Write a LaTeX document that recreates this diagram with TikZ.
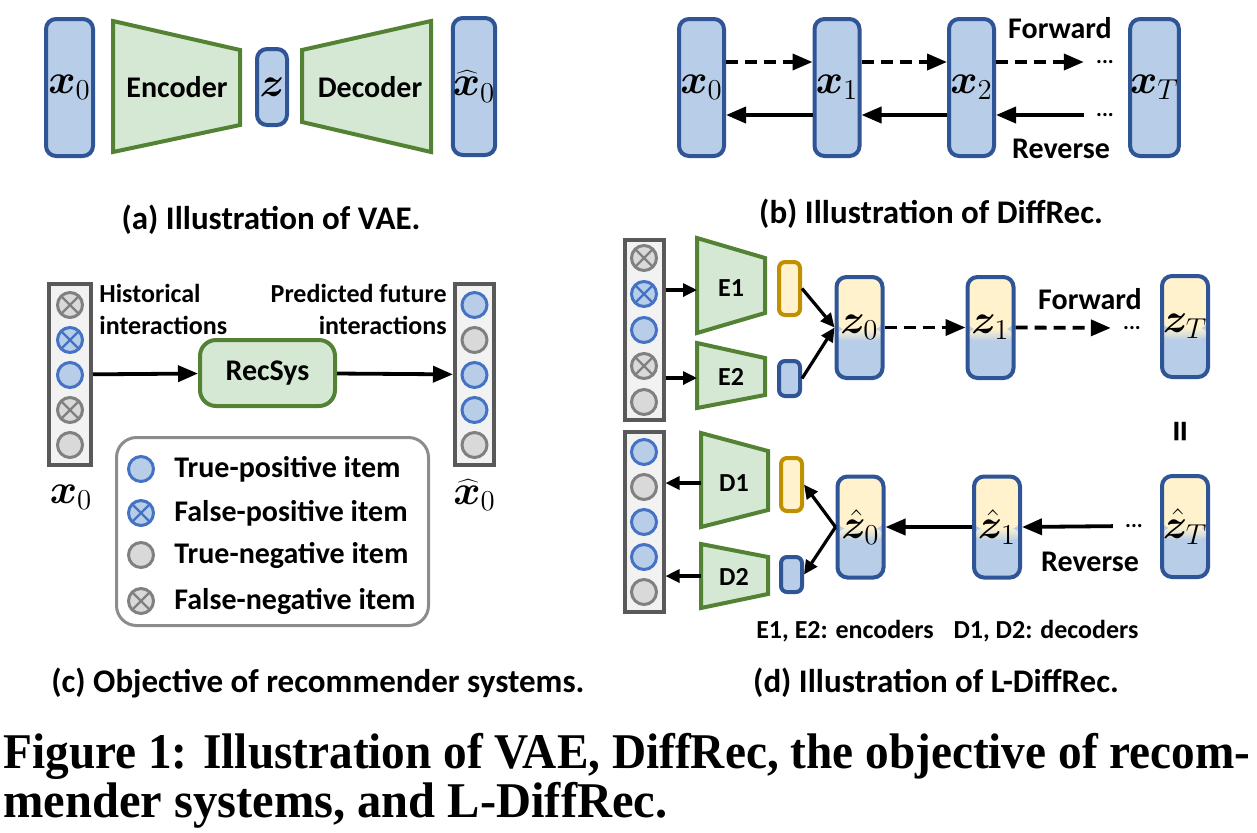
\documentclass[tikz,border=0pt]{standalone}
\usepackage{bm}
\usepackage[no-math]{fontspec}
\newfontfamily\cf{Carlito}
\newfontfamily\capfont{Liberation Serif}
\usetikzlibrary{arrows.meta}
\definecolor{bfill}{RGB}{183,205,232}
\definecolor{bline}{RGB}{47,85,151}
\definecolor{cline}{RGB}{68,114,196}
\definecolor{gfill}{RGB}{217,217,217}
\definecolor{gline}{RGB}{128,128,128}
\definecolor{colfill}{RGB}{242,242,242}
\definecolor{colline}{RGB}{89,89,89}
\definecolor{nfill}{RGB}{213,232,212}
\definecolor{nline}{RGB}{84,130,53}
\definecolor{yfill}{RGB}{255,242,204}
\definecolor{yline}{RGB}{191,144,0}
\definecolor{lgline}{RGB}{140,140,140}

\begin{document}
\begin{tikzpicture}[x=0.5pt, y=-0.5pt, font=\cf\bfseries,
  vec/.style={draw=bline, fill=bfill, line width=2pt, rounded corners=5pt, inner sep=0pt,
    font=\fontsize{20}{22}\selectfont},
  lat/.style={vec, minimum width=23pt, minimum height=50.5pt,
    path picture={
      \fill[yfill] (path picture bounding box.north west) rectangle ([yshift=-1pt]path picture bounding box.east);
      \shade[top color=yfill, bottom color=bfill] ([yshift=-0.5pt]path picture bounding box.west)
        rectangle ([yshift=-7pt]path picture bounding box.east);
      \fill[bfill] ([yshift=-6.5pt]path picture bounding box.west) rectangle (path picture bounding box.south east);}},
  sbox/.style={vec, rounded corners=3pt, minimum width=10.5pt},
  nn/.style={draw=nline, fill=nfill, line width=2pt},
  colbox/.style={draw=colline, fill=colfill, line width=2pt, inner sep=0pt},
  leg/.style={draw=lgline, line width=1.5pt, rounded corners=10pt},
  itp/.style={circle, draw=cline, fill=bfill, line width=1.5pt, minimum size=12.5pt, inner sep=0pt},
  itn/.style={circle, draw=gline, fill=gfill, line width=1.5pt, minimum size=12.5pt, inner sep=0pt},
  ifp/.style={itp, path picture={\draw[cline, line width=1.2pt]
    (path picture bounding box.south west) -- (path picture bounding box.north east)
    (path picture bounding box.north west) -- (path picture bounding box.south east);}},
  ifn/.style={itn, path picture={\draw[gline, line width=1.2pt]
    (path picture bounding box.south west) -- (path picture bounding box.north east)
    (path picture bounding box.north west) -- (path picture bounding box.south east);}},
  arr/.style={-{Triangle[length=10pt,width=8pt]}, line width=1.9pt},
  arrs/.style={-{Triangle[length=7pt,width=6.5pt]}, line width=1.6pt},
  dsh/.style={arr, dash pattern=on 6pt off 3.5pt},
  ttl/.style={font=\cf\bfseries\fontsize{16.5}{19}\selectfont},
  lbl/.style={font=\cf\bfseries\fontsize{15}{17}\selectfont},
  sml/.style={font=\cf\bfseries\fontsize{13}{16}\selectfont},
  ell/.style={font=\cf\bfseries\fontsize{11}{12}\selectfont, inner sep=0pt}]
\useasboundingbox (0,0) rectangle (1257,832);

% (a) VAE
\node[vec, minimum width=23.5pt, minimum height=68.5pt] (xa) at (69.5,87.5) {$\bm{x}_0$};
\draw[nn] (113,21) -- (240,50) -- (240,125) -- (113,152) -- cycle;
\node[lbl] (enc) at (177,87) {Encoder};
\node[vec, minimum width=15pt, minimum height=38pt] (za) at (272,87) {$\bm{z}$};
\draw[nn] (302,50) -- (431,21) -- (431,152) -- (302,122) -- cycle;
\node[lbl] (dec) at (370,87) {Decoder};
\node[vec, minimum width=21pt, minimum height=68.5pt] (xha) at (474,86.5) {$\widehat{\bm{x}}_0$};
\node[ttl] (capa) at (271,220) {(a) Illustration of VAE.};

% (b) DiffRec
\foreach \n/\x/\s in {x0b/701.5/0, x1b/837/1, x2b/971.5/2, xtb/1154.5/T}
  \node[vec, minimum width=22.5pt, minimum height=68.5pt] (\n) at (\x,87.5) {$\bm{x}_\s$};
\node[ell] (dfb) at (1105,62) {...};
\node[ell] (drb) at (1105,115) {...};
\draw[dsh] ([yshift=12.75pt]x0b.east) -- ([yshift=12.75pt]x1b.west);
\draw[dsh] ([yshift=12.75pt]x1b.east) -- ([yshift=12.75pt]x2b.west);
\draw[dsh, shorten >=6pt] ([yshift=12.75pt]x2b.east) -- (dfb.west);
\draw[arr] ([yshift=-13.75pt]x1b.west) -- ([yshift=-13.75pt]x0b.east);
\draw[arr] ([yshift=-13.75pt]x2b.west) -- ([yshift=-13.75pt]x1b.east);
\draw[arr, shorten <=6pt] (drb.west) -- ([yshift=-13.75pt]x2b.east);
\node[lbl] (fwb) at (1060,28) {Forward};
\node[lbl] (rvb) at (1061,149) {Reverse};
\node[ttl] (capb) at (931,214) {(b) Illustration of DiffRec.};

% (c) recommender systems
\node[colbox, minimum width=21pt, minimum height=90.5pt] (colL) at (70,374.5) {};
\node[colbox, minimum width=19.5pt, minimum height=90.5pt] (colR) at (474.5,374.5) {};
\foreach \t [count=\i] in {ifn,ifp,itp,ifn,itn}
  \node[\t] (ca\i) at (70,270+35*\i) {};
\foreach \t [count=\i] in {itp,itn,itp,itp,itn}
  \node[\t] (cb\i) at (474.5,270+35*\i) {};
\node[nn, rounded corners=8pt, minimum width=67.5pt, minimum height=33pt, lbl] (rec) at (267.5,373) {RecSys};
\draw[arr] (colL) -- (rec);
\draw[arr] (rec) -- (colR);
\node[sml, anchor=west, align=left, inner sep=0pt] (hist) at (99,309) {Historical\\interactions};
\node[sml, anchor=east, align=right, inner sep=0pt] (pred) at (447,309) {Predicted future\\interactions};
\node[vec, draw=none, fill=none] (xlc) at (71,497) {$\bm{x}_0$};
\node[vec, draw=none, fill=none] (xhlc) at (474.5,495) {$\widehat{\bm{x}}_0$};
\node[leg, minimum width=156pt, minimum height=94pt] (legend) at (272.5,531.5) {};
\foreach \t/\y/\s [count=\i] in {itp/469/True-positive item, ifp/513/False-positive item,
    itn/555/True-negative item, ifn/601/False-negative item} {
  \node[\t] (lg\i) at (141,\y) {};
  \node[lbl, anchor=west, inner sep=0pt] (lt\i) at (174,\y) {\s};
}
\node[ttl] (capc) at (318,683) {(c) Objective of recommender systems.};

% (d) L-DiffRec
\node[colbox, minimum width=19.5pt, minimum height=90pt] (colT) at (644,329.5) {};
\node[colbox, minimum width=19.5pt, minimum height=90pt] (colB) at (644,522) {};
\foreach \t [count=\i] in {ifn,ifp,itp,ifn,itn}
  \node[\t] (da\i) at (644,222+36*\i) {};
\foreach \t [count=\i] in {itp,itn,itp,itp,itn}
  \node[\t] (db\i) at (644,417+35*\i) {};
\draw[nn] (697,238) -- (765,258) -- (765,313) -- (697,333) -- cycle;
\draw[nn] (697,343) -- (765,358) -- (765,395) -- (697,408) -- cycle;
\draw[nn] (701,433) -- (768,451) -- (768,510) -- (701,527) -- cycle;
\draw[nn] (701,544) -- (768,557) -- (768,594) -- (701,608) -- cycle;
\node[sml] (e1) at (731,288) {E1};
\node[sml] (e2) at (731,377) {E2};
\node[sml] (d1) at (734,483) {D1};
\node[sml] (d2) at (734,577) {D2};
\coordinate (e1in) at (697,290);
\coordinate (e2in) at (697,378);
\coordinate (d1out) at (701,483);
\coordinate (d2out) at (701,576);
\draw[arrs] (colT.east |- e1in) -- (e1in);
\draw[arrs] (colT.east |- e2in) -- (e2in);
\draw[arrs] (d1out) -- (colB.east |- d1out);
\draw[arrs] (d2out) -- (colB.east |- d2out);
\node[sbox, draw=yline, fill=yfill, minimum height=26.5pt] (y1) at (789.5,288.5) {};
\node[sbox, minimum height=17.5pt] (b1) at (789.5,378.5) {};
\node[sbox, draw=yline, fill=yfill, minimum height=26.5pt] (y2) at (791.5,484.5) {};
\node[sbox, minimum height=17.5pt] (b2) at (791.5,574.5) {};
\node[lat] (z0) at (859.5,327.5) {$\bm{z}_0$};
\node[lat] (z1) at (990.5,327.5) {$\bm{z}_1$};
\node[lat] (zt) at (1185,326.5) {$\bm{z}_T$};
\node[lat] (z0h) at (860.5,527) {$\hat{\bm{z}}_0$};
\node[lat] (z1h) at (997,527) {$\hat{\bm{z}}_1$};
\node[lat] (zth) at (1185,526.5) {$\hat{\bm{z}}_T$};
\draw[arrs] (y1.east) -- (z0.west);
\draw[arrs] (b1.east) -- (z0.west);
\draw[arrs] (z0h.west) -- (y2.east);
\draw[arrs] (z0h.west) -- (b2.east);
\node[ell] (dfd) at (1132,328) {...};
\node[ell] (drd) at (1134,526) {...};
\draw[dsh] (z0) -- (z1);
\draw[dsh, shorten >=6pt] (z1.east) -- (dfd.west);
\draw[arr] (z1h) -- (z0h);
\draw[arr, shorten <=6pt] (drd.west) -- (z1h.east);
\node[lbl] (fwd) at (1090,299) {Forward};
\node[lbl] (rvd) at (1090,562) {Reverse};
\node[rotate=90, font=\cf\bfseries\fontsize{22}{24}\selectfont] (eq) at (1185,432) {=};
\node[sml] (encs) at (845,631) {E1, E2: encoders};
\node[sml] (decs) at (1046,631) {D1, D2: decoders};
\node[ttl] (capd) at (936,683) {(d) Illustration of L-DiffRec.};

% figure caption
\node[anchor=base west, inner sep=0pt, font=\capfont\bfseries\fontsize{25}{30}\selectfont] (fig1) at (3,768)
  {\resizebox{623.5pt}{\height}{Figure 1: Illustration of VAE, DiffRec, the objective of recom-}};
\node[anchor=base west, inner sep=0pt, font=\capfont\bfseries\fontsize{25}{30}\selectfont] (fig2) at (3,817)
  {\resizebox{332pt}{\height}{mender systems, and L-DiffRec.}};
\end{tikzpicture}
\end{document}
